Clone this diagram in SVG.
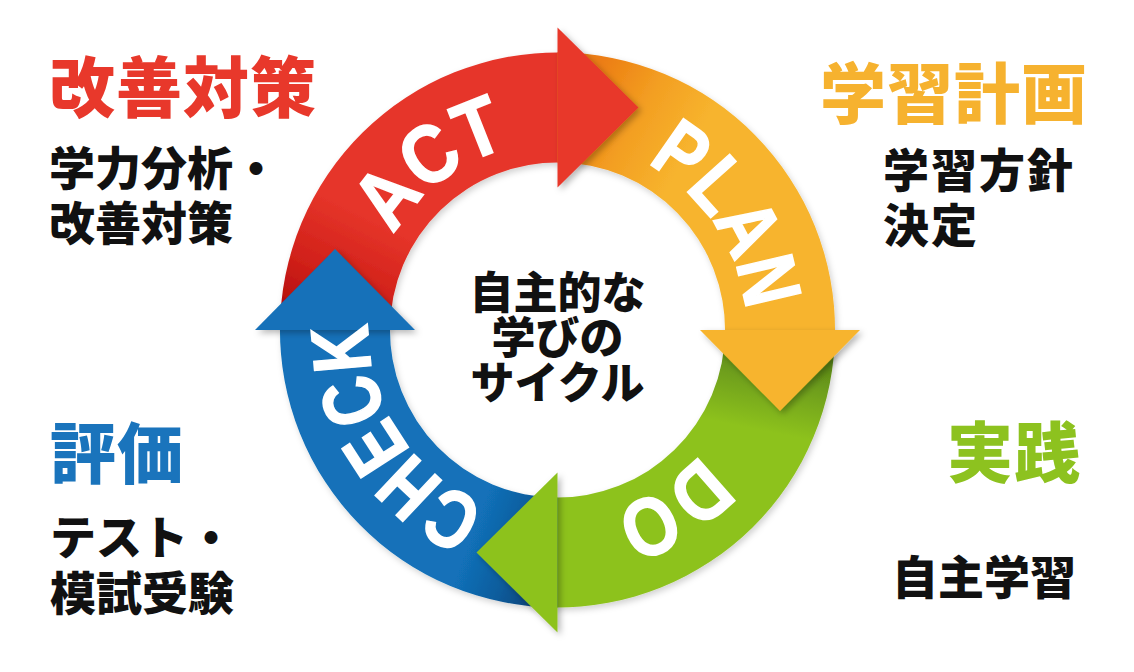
<svg xmlns="http://www.w3.org/2000/svg" xmlns:xlink="http://www.w3.org/1999/xlink" width="1134" height="672" viewBox="0 0 1134 672">
  <style>
    .jp { font-family: "Noto Sans CJK JP", "Noto Sans CJK SC", sans-serif; font-weight: 900; }
    .title { font-size: 66px; letter-spacing: 1px; }
    .sub { font-size: 46px; fill: #111111; }
    .center { font-size: 44px; fill: #111111; text-anchor: middle; }
    .arc { font-family: "Liberation Sans", Arial, sans-serif; font-weight: 700; font-size: 82px; fill: #ffffff; stroke: #ffffff; stroke-width: 1.6px; stroke-linejoin: miter; }
    .head { filter: url(#sh); }
  </style>
  <defs>
    <filter id="sh" x="-30%" y="-30%" width="160%" height="160%">
      <feDropShadow dx="3" dy="3" stdDeviation="3" flood-color="#000000" flood-opacity="0.28"/>
    </filter>
    <filter id="sh2" x="-10%" y="-10%" width="120%" height="120%">
      <feDropShadow dx="2" dy="3" stdDeviation="3" flood-color="#000000" flood-opacity="0.18"/>
    </filter>
    <linearGradient id="gAct" gradientUnits="userSpaceOnUse" x1="290" y1="322" x2="348" y2="205">
      <stop offset="0" stop-color="#AE0A0A"/>
      <stop offset="0.45" stop-color="#D02019"/>
      <stop offset="1" stop-color="#E6352A"/>
    </linearGradient>
    <linearGradient id="gPlan" gradientUnits="userSpaceOnUse" x1="585" y1="90" x2="690" y2="150">
      <stop offset="0" stop-color="#EC7D12"/>
      <stop offset="0.5" stop-color="#F39F22"/>
      <stop offset="1" stop-color="#F7B42E"/>
    </linearGradient>
    <linearGradient id="gDo" gradientUnits="userSpaceOnUse" x1="805" y1="335" x2="785" y2="435">
      <stop offset="0" stop-color="#4A7414"/>
      <stop offset="0.5" stop-color="#6E9E1B"/>
      <stop offset="1" stop-color="#8DC21F"/>
    </linearGradient>
    <linearGradient id="gCheck" gradientUnits="userSpaceOnUse" x1="548" y1="592" x2="462" y2="560">
      <stop offset="0" stop-color="#093E70"/>
      <stop offset="0.5" stop-color="#0E5C9C"/>
      <stop offset="1" stop-color="#1271B9"/>
    </linearGradient>
    <path id="tp" d="M 746.5 330 A 189 189 0 1 1 368.5 330 A 189 189 0 1 1 746.5 330" fill="none"/>
  </defs>

  <rect width="1134" height="672" fill="#ffffff"/>

  <g id="cycle">
    <g id="connectors-shafts" filter="url(#sh2)">
      <path id="act-shaft" fill="url(#gAct)" d="M 280 330 A 277.5 277.5 0 0 1 562 52.54 L 562 162.56 A 167.5 167.5 0 0 0 390 330 Z"/>
      <path id="plan-shaft" fill="url(#gPlan)" d="M 557.5 52.5 A 277.5 277.5 0 0 1 835 334 L 725 334 A 167.5 167.5 0 0 0 557.5 162.5 Z"/>
      <path id="do-shaft" fill="url(#gDo)" d="M 835 330 A 277.5 277.5 0 0 1 553.5 607.47 L 553.5 497.45 A 167.5 167.5 0 0 0 725 330 Z"/>
      <path id="check-shaft" fill="url(#gCheck)" d="M 557.5 607.5 A 277.5 277.5 0 0 1 280 326 L 390 326 A 167.5 167.5 0 0 0 557.5 497.5 Z"/>
    </g>
    <g id="connectors-heads">
      <polygon id="act-head" class="head" fill="#E8372A" points="557.5,27.5 638.5,107.5 557.5,187.5"/>
      <polygon id="plan-head" class="head" fill="#F7B42E" points="700,330 860,330 780,411"/>
      <polygon id="do-head" class="head" fill="#8DC21F" points="557.5,472.5 476.5,552.5 557.5,632.5"/>
      <polygon id="check-head" class="head" fill="#1271B9" points="255,330 415,330 335,249"/>
    </g>
    <g id="arc-labels">
      <text class="arc"><textPath href="#tp" xlink:href="#tp" startOffset="692.7" textLength="148.4" lengthAdjust="spacingAndGlyphs">ACT</textPath></text>
      <text class="arc"><textPath href="#tp" xlink:href="#tp" startOffset="983" textLength="184.7" lengthAdjust="spacingAndGlyphs">PLAN</textPath></text>
      <text class="arc"><textPath href="#tp" xlink:href="#tp" startOffset="135.2" textLength="105.6" lengthAdjust="spacingAndGlyphs">DO</textPath></text>
      <text class="arc"><textPath href="#tp" xlink:href="#tp" startOffset="369.5" textLength="230.9" lengthAdjust="spacingAndGlyphs">CHECK</textPath></text>
    </g>
    <g id="center-label" class="jp">
      <text class="jp center" x="557.5" y="309">自主的な</text>
      <text class="jp center" x="557.5" y="354">学びの</text>
      <text class="jp center" x="557.5" y="399">サイクル</text>
    </g>
  </g>

  <g id="node-act">
    <text class="jp title" x="49" y="112" fill="#E8382B">改善対策</text>
    <text class="jp sub" x="49" y="185">学力分析・</text>
    <text class="jp sub" x="49" y="240">改善対策</text>
  </g>
  <g id="node-plan">
    <text class="jp title" x="820" y="118" fill="#F6B22F">学習計画</text>
    <text class="jp sub" x="883" y="187" letter-spacing="2">学習方針</text>
    <text class="jp sub" x="883" y="242" letter-spacing="2">決定</text>
  </g>
  <g id="node-check">
    <text class="jp title" x="50" y="478" fill="#1A74BC">評価</text>
    <text class="jp sub" x="50" y="554">テスト・</text>
    <text class="jp sub" x="50" y="610">模試受験</text>
  </g>
  <g id="node-do">
    <text class="jp title" x="947" y="477" fill="#8DC21F">実践</text>
    <text class="jp sub" x="892" y="594">自主学習</text>
  </g>
</svg>
